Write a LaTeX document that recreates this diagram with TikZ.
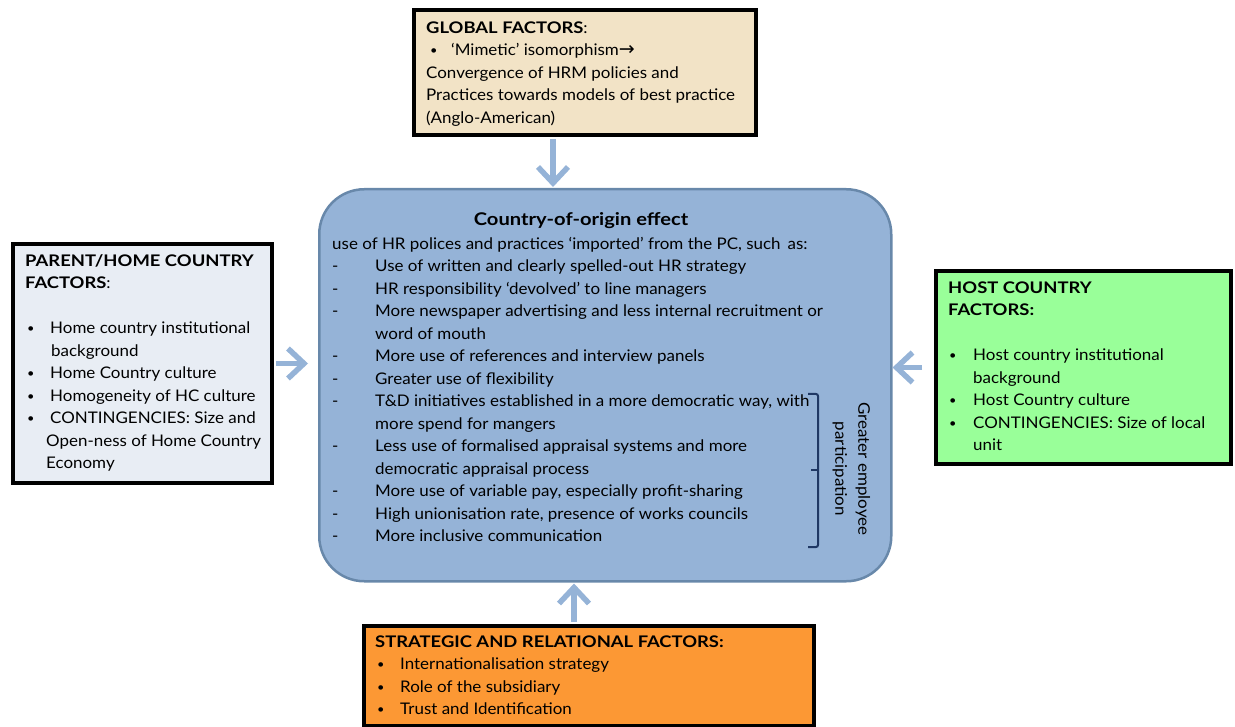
\documentclass[tikz,border=0pt]{standalone}
\usepackage{fontspec}
\setmainfont{Lato}[FakeStretch=1.06, BoldFeatures={FakeStretch=1.15}]
\newfontfamily\arrowfont{DejaVu Sans}
\usetikzlibrary{arrows.meta}

\definecolor{tanfill}{RGB}{242,227,198}
\definecolor{parentfill}{RGB}{232,237,244}
\definecolor{hostfill}{RGB}{153,255,153}
\definecolor{stratfill}{RGB}{252,152,52}
\definecolor{cooblue}{RGB}{149,179,215}
\definecolor{cooedge}{RGB}{104,136,170}
\definecolor{bracenavy}{RGB}{31,56,100}

\newcommand\smallbullet{\raisebox{1.2pt}{\fontsize{12}{12}\selectfont\textbullet}}
\newcommand\bitem[3]{\hspace*{#1}\makebox[#2][l]{\smallbullet}#3}
\newcommand\ditem[1]{\makebox[43pt][l]{-}#1}

\begin{document}
\begin{tikzpicture}[x=1pt,y=-1pt,
  factor/.style={draw=black, line width=4pt, anchor=north west, inner sep=0pt},
  txt/.style={anchor=north west, inner sep=0pt, align=left,
    font=\fontsize{16}{22.5}\selectfont},
  arr/.style={draw=cooblue, line width=5.5pt,
    -{Straight Barb[length=16pt,width=30pt]}}]
\useasboundingbox (0,0) rectangle (1235,727);

% factor boxes
\node[factor, fill=tanfill, minimum width=342pt, minimum height=125pt] (global) at (412,8) {};
\node[factor, fill=parentfill, minimum width=259pt, minimum height=239pt] (parent) at (11,242) {};
\node[factor, fill=hostfill, minimum width=295pt, minimum height=193pt] (host) at (934,269) {};
\node[factor, fill=stratfill, minimum width=450pt, minimum height=100pt] (strat) at (362,624) {};

% central box
\node[draw=cooedge, line width=2.5pt, fill=cooblue, rounded corners=45pt,
  anchor=north west, minimum width=572pt, minimum height=392pt] (coo) at (318,188) {};

% texts of the factor boxes
\node[txt] (globaltxt) at (426,17.25) {\strut\textbf{GLOBAL FACTORS}:\\
\bitem{4pt}{21pt}{‘Mimetic’ isomorphism{\arrowfont\fontsize{19}{22.5}\selectfont →}}\\
Convergence of HRM policies and\\
Practices towards models of best practice\\
(Anglo-American)};

\node[txt] (parenttxt) at (25,250.25) {\strut\textbf{PARENT/HOME COUNTRY}\\
\textbf{FACTORS}:\\[22.5pt]
\bitem{2pt}{23pt}{Home country institutional}\\
\hspace*{26pt}background\\
\bitem{2pt}{23pt}{Home Country culture}\\
\bitem{2pt}{23pt}{Homogeneity of HC culture}\\
\bitem{2pt}{23pt}{CONTINGENCIES: Size and}\\
\hspace*{21pt}Open-ness of Home Country\\
\hspace*{21pt}Economy};

\node[txt] (hosttxt) at (948,277.25) {\strut\textbf{HOST COUNTRY}\\
\textbf{FACTORS:}\\[22.5pt]
\bitem{1pt}{24pt}{Host country institutional}\\
\hspace*{25pt}background\\
\bitem{1pt}{24pt}{Host Country culture}\\
\bitem{1pt}{24pt}{CONTINGENCIES: Size of local}\\
\hspace*{25pt}unit};

\node[txt] (strattxt) at (375,631.25) {\strut\textbf{STRATEGIC AND RELATIONAL FACTORS:}\\
\bitem{2pt}{23pt}{Internationalisation strategy}\\
\bitem{2pt}{23pt}{Role of the subsidiary}\\
\bitem{2pt}{23pt}{Trust and Identification}};

% texts of the central box
\node[anchor=base, inner sep=0pt, font=\fontsize{17.5}{21}\selectfont\bfseries] (cootitle) at (581,226) {Country-of-origin effect};

\node[txt] (coolist) at (332,233.25) {\strut use of HR polices and practices ‘imported’ from the PC, such\, as:\\
\ditem{Use of written and clearly spelled-out HR strategy}\\
\ditem{HR responsibility ‘devolved’ to line managers}\\
\ditem{More newspaper advertising and less internal recruitment or}\\
\hspace*{43pt}word of mouth\\
\ditem{More use of references and interview panels}\\
\ditem{Greater use of flexibility}\\
\ditem{T\&D initiatives established in a more democratic way, with}\\
\hspace*{43pt}more spend for mangers\\
\ditem{Less use of formalised appraisal systems and more}\\
\hspace*{43pt}democratic appraisal process\\
\ditem{More use of variable pay, especially profit-sharing}\\
\ditem{High unionisation rate, presence of works councils}\\
\ditem{More inclusive communication}};

\node[rotate=-90, align=center, inner sep=0pt, font=\fontsize{16}{23}\selectfont] (gep) at (851.5,469) {Greater employee\\participation};

% bracket grouping the participation items
\draw[bracenavy, line width=2pt, rounded corners=2pt] (808,394) -| (818,547) -- (808,547);
\draw[bracenavy, line width=2pt] (818,470) -- (811,470);

% influence arrows
\draw[arr, shorten <=2pt, shorten >=1pt] ([xshift=-32pt]global.south) -- ([xshift=-32pt]global.south |- coo.north);
\draw[arr, shorten <=2pt, shorten >=10pt] (parent.east) -- (parent.east -| coo.west);
\draw[arr, shorten <=12pt, shorten >=0pt] (host.west) -- (host.west -| coo.east);
\draw[arr, shorten <=2pt, shorten >=1pt] ([xshift=-15pt]strat.north) -- ([xshift=-15pt]strat.north |- coo.south);
\end{tikzpicture}
\end{document}
